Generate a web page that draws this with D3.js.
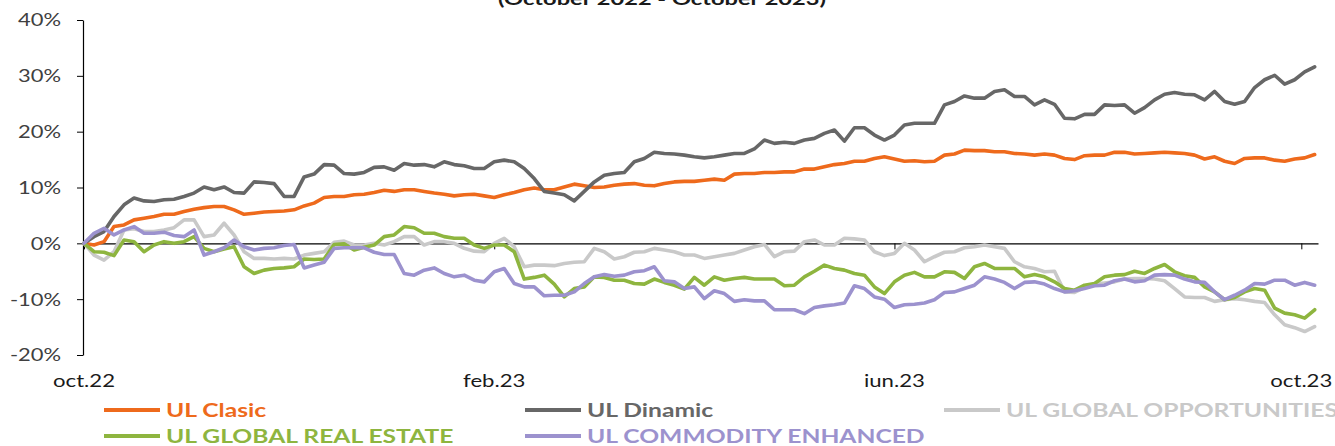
<!DOCTYPE html>
<html>
<head>
<meta charset="utf-8">
<script src="https://cdn.jsdelivr.net/npm/d3@7"></script>
<style>
  body { margin: 0; background: #fff; }
  svg { display: block; }
  text { font-family: Lato, "Open Sans", sans-serif; }
</style>
</head>
<body>
<div id="chart"></div>
<script>
// chart data, one value every 3 days from 1 oct 2022 ***********
var seriesNames = ['UL Clasic', 'UL Dinamic', 'UL GLOBAL OPPORTUNITIES', 'UL GLOBAL REAL ESTATE', 'UL COMMODITY ENHANCED'];
var seriesColors = ['#EE6A1C', '#676767', '#C9C9C9', '#8EB53F', '#9C92CE'];
var tickDates = ['2022-10-01', '2023-02-01', '2023-06-01', '2023-10-01'];
var tickLabels = ['oct.22', 'feb.23', 'iun.23', 'oct.23'];
var yTicks = [-20, -10, 0, 10, 20, 30, 40];

var ulClasic = [0,-0.3,0.3,3.0,3.3,4.2,4.5,4.8,5.2,5.2,5.7,6.1,6.4,6.6,6.6,6.0,5.2,5.4,5.6,5.7,5.8,6.0,6.7,7.2,8.2,8.4,8.4,8.7,8.8,9.1,9.5,
  9.3,9.6,9.6,9.3,9.0,8.8,8.5,8.7,8.8,8.5,8.2,8.7,9.1,9.6,9.9,9.6,9.6,10.1,10.6,10.3,10.0,10.1,10.4,10.6,10.7,10.4,10.3,10.7,11.0,11.1,11.1,
  11.3,11.5,11.3,12.4,12.5,12.5,12.7,12.7,12.8,12.8,13.3,13.3,13.7,14.1,14.3,14.7,14.7,15.2,15.5,15.1,14.7,14.8,14.6,14.7,15.8,16.0,16.7,16.6,16.6,16.4,16.4,
  16.1,16.0,15.8,16.0,15.8,15.2,15.0,15.7,15.8,15.8,16.3,16.3,16.0,16.1,16.2,16.3,16.2,16.1,15.8,15.1,15.5,14.7,14.3,15.2,15.3,15.3,14.9,14.7,15.1,15.3,15.9];

var ulDinamic = [0,1.2,2.1,4.8,6.9,8.1,7.6,7.5,7.8,7.9,8.4,9.0,10.1,9.6,10.1,9.1,9.0,11.0,10.9,10.7,8.4,8.4,11.9,12.4,14.1,14.0,12.5,12.4,12.7,13.6,13.7,
  13.1,14.3,14.0,14.1,13.7,14.6,14.1,13.9,13.4,13.4,14.6,14.9,14.6,13.4,11.6,9.3,9.0,8.7,7.6,9.3,11.0,12.2,12.5,12.7,14.6,15.2,16.3,16.1,16.0,15.8,15.5,
  15.3,15.5,15.8,16.1,16.1,16.9,18.5,17.9,18.1,17.9,18.5,18.8,19.7,20.3,18.3,20.7,20.7,19.4,18.5,19.4,21.2,21.5,21.5,21.5,24.8,25.4,26.4,26.0,26.0,27.2,27.5,
  26.3,26.3,24.8,25.7,24.9,22.4,22.3,23.1,23.1,24.8,24.7,24.8,23.3,24.3,25.7,26.7,27.0,26.7,26.6,25.7,27.2,25.4,24.9,25.4,27.9,29.3,30.1,28.5,29.3,30.7,31.6];

var ulGlobalOpp = [0,-2.1,-3.0,-1.5,2.4,2.6,2.1,2.1,2.4,2.8,4.2,4.2,1.2,1.5,3.6,1.5,-1.5,-2.7,-2.7,-2.8,-2.7,-2.8,-2.1,-1.8,-1.5,0.2,0.4,-0.3,-0.3,0,-0.3,
  0.3,1.2,1.2,-0.3,0.3,0.3,0,-0.9,-1.4,-1.5,0,0.9,-0.6,-4.2,-3.9,-3.9,-4.0,-3.6,-3.4,-3.3,-0.9,-1.5,-2.8,-2.4,-1.6,-1.5,-0.9,-1.2,-1.5,-2.1,-2.1,
  -2.7,-2.4,-2.1,-1.8,-1.2,-0.6,-0.2,-2.4,-1.5,-1.4,0.3,0.6,-0.3,-0.3,0.9,0.8,0.6,-1.5,-2.2,-1.8,0,-1.2,-3.3,-2.4,-1.6,-1.5,-0.8,-0.6,-0.3,-0.6,-0.9,
  -3.3,-4.2,-4.5,-5.1,-5.0,-8.7,-8.8,-7.9,-7.3,-7.1,-6.9,-6.4,-6.3,-6.3,-6.4,-6.7,-8.1,-9.6,-9.7,-9.7,-10.4,-10.1,-9.9,-10.1,-10.4,-10.6,-12.8,-14.6,-15.1,-15.8,-14.9];

var ulRealEstate = [0,-1.5,-1.6,-2.2,0.6,0.3,-1.5,-0.3,0.3,0,0.3,1.2,-0.9,-1.5,-1.0,-0.6,-4.2,-5.4,-4.8,-4.5,-4.4,-4.2,-2.8,-2.9,-2.8,-0.2,-0.1,-1.2,-0.7,-0.3,1.2,
  1.5,3.0,2.8,1.8,1.8,1.2,0.9,0.9,-0.3,-0.9,-0.3,-0.3,-1.5,-6.4,-6.1,-5.7,-7.3,-9.6,-8.1,-7.8,-6.0,-6.1,-6.6,-6.6,-7.2,-7.3,-6.4,-7.0,-7.5,-8.2,-6.1,
  -7.5,-6.0,-6.6,-6.3,-6.1,-6.4,-6.4,-6.4,-7.6,-7.5,-6.0,-5.0,-3.9,-4.5,-4.8,-5.4,-5.7,-7.8,-9.0,-6.9,-5.7,-5.2,-6.0,-6.0,-5.1,-5.2,-6.3,-4.2,-3.6,-4.5,-4.5,
  -4.5,-6.0,-5.6,-6.0,-6.9,-8.1,-8.4,-7.5,-7.2,-6.0,-5.7,-5.6,-5.0,-5.4,-4.5,-3.8,-5.1,-5.8,-6.1,-7.8,-8.7,-10.1,-9.7,-8.7,-8.1,-8.4,-11.6,-12.5,-12.8,-13.4,-11.9];

var ulCommodity = [0,1.8,2.7,1.5,2.4,3.0,1.8,1.8,2.0,1.4,1.2,2.4,-2.1,-1.5,-0.8,0.6,-0.6,-1.2,-0.9,-0.8,-0.4,-0.2,-4.4,-3.9,-3.4,-0.9,-0.8,-0.8,-0.8,-1.6,-2.0,
  -2.0,-5.4,-5.7,-4.8,-4.4,-5.4,-6.0,-5.7,-6.6,-6.9,-5.1,-4.5,-7.2,-7.8,-7.8,-9.4,-9.3,-9.3,-8.7,-7.2,-6.0,-5.6,-5.9,-5.7,-5.1,-4.9,-4.2,-6.7,-6.9,-8.1,-7.8,
  -9.9,-8.5,-9.0,-10.4,-10.1,-10.3,-10.3,-11.9,-11.9,-11.9,-12.6,-11.5,-11.2,-11.0,-10.7,-7.6,-8.1,-9.6,-10.0,-11.5,-11.0,-10.9,-10.7,-10.1,-8.8,-8.7,-8.1,-7.5,-6.0,-6.4,-7.0,
  -8.1,-7.0,-6.9,-7.3,-8.1,-8.7,-8.5,-8.1,-7.6,-7.5,-6.7,-6.4,-6.9,-6.7,-5.7,-5.6,-5.7,-6.4,-6.9,-7.0,-8.7,-10.1,-9.3,-8.4,-7.2,-7.3,-6.6,-6.6,-7.5,-7.0,-7.5];

var seriesValues = [ulClasic, ulDinamic, ulGlobalOpp, ulRealEstate, ulCommodity];

// sizes ***********
var svgWidth = 1335;
var svgHeight = 446;
var plotLeft = 84, plotRight = 1318, plotTop = 20, plotBottom = 355;

var svg = d3.select('#chart')
  .append('svg')
  .attr('width', svgWidth)
  .attr('height', svgHeight);

var parseDate = d3.timeParse('%Y-%m-%d');
var startDate = parseDate('2022-10-01');
var dates = ulClasic.map((d, i) => d3.timeDay.offset(startDate, 3 * i));

// scales ***********
var x = d3.scaleTime()
  .domain([startDate, parseDate('2023-10-06')])
  .range([plotLeft, plotRight]);

var y = d3.scaleLinear()
  .domain([-20, 40])
  .range([plotBottom, plotTop]);

// stretch text to the wide look of the original ***********
function stretch(sel, factor) {
  sel.each(function() {
    var w = this.getComputedTextLength();
    d3.select(this).attr('textLength', w * factor).attr('lengthAdjust', 'spacingAndGlyphs');
  });
}
function factorFor(node, target) {
  return target / node.getComputedTextLength();
}

// y axis ***********
var yAxis = svg.append('g')
  .attr('transform', `translate(${plotLeft - 1},0)`)
  .call(d3.axisLeft(y).tickValues(yTicks).tickSize(6).tickSizeOuter(0).tickPadding(16).tickFormat(d => d + '%'));
yAxis.select('.domain').attr('stroke', '#000').attr('stroke-width', 1.2);
yAxis.selectAll('.tick line').attr('stroke', '#000');
var yLabels = yAxis.selectAll('.tick text')
  .attr('fill', '#404040')
  .style('font-size', '16.5px')
  .attr('dy', '0.36em');
var yFactor = factorFor(yLabels.filter(d => d === 40).node(), 43);
stretch(yLabels, yFactor);

// zero axis with the date ticks ***********
var xAxis = svg.append('g')
  .attr('transform', `translate(0,${y(0)})`)
  .call(d3.axisBottom(x).tickValues(tickDates.map(parseDate)).tickSize(6).tickSizeOuter(0).tickFormat(''));
xAxis.select('.domain').attr('stroke', '#000').attr('stroke-width', 1.2);
xAxis.selectAll('.tick line').attr('stroke', '#000');

var xLabels = svg.append('g').selectAll('text')
  .data(tickDates)
  .enter()
  .append('text')
  .attr('x', d => x(parseDate(d)))
  .attr('y', 387)
  .attr('text-anchor', 'middle')
  .attr('fill', '#1a1a1a')
  .style('font-size', '16.5px')
  .text((d, i) => tickLabels[i]);
stretch(xLabels, factorFor(xLabels.node(), 62));

// lines ***********
var line = d3.line()
  .x((d, i) => x(dates[i]))
  .y(d => y(d));

svg.append('g').selectAll('path')
  .data(seriesValues)
  .enter()
  .append('path')
  .attr('d', d => line(d))
  .attr('fill', 'none')
  .attr('stroke', (d, i) => seriesColors[i])
  .attr('stroke-width', 3.6)
  .attr('stroke-linejoin', 'round')
  .attr('stroke-linecap', 'round');

// title, only its last line is inside the picture ***********
var title = svg.append('text')
  .attr('x', 662)
  .attr('y', 5)
  .attr('text-anchor', 'middle')
  .attr('fill', '#1a1a1a')
  .style('font-size', '17px')
  .style('font-weight', 'bold')
  .text('(October 2022 - October 2023)');
stretch(title, factorFor(title.node(), 328));

// legend ***********
var legendPos = [[104, 410], [525, 410], [944, 410], [104, 436], [525, 436]];
var legend = svg.append('g').selectAll('g')
  .data(seriesNames)
  .enter()
  .append('g')
  .attr('transform', (d, i) => `translate(${legendPos[i][0]},${legendPos[i][1]})`);

legend.append('line')
  .attr('x1', 0).attr('x2', 56)
  .attr('y1', 0).attr('y2', 0)
  .attr('stroke', (d, i) => seriesColors[i])
  .attr('stroke-width', 4);

var legendText = legend.append('text')
  .attr('x', 62)
  .attr('y', 7)
  .attr('fill', (d, i) => seriesColors[i])
  .style('font-size', '19.5px')
  .style('font-weight', 'bold')
  .text(d => d);
stretch(legendText, factorFor(legendText.filter((d, i) => i === 2).node(), 332));
</script>
</body>
</html>
